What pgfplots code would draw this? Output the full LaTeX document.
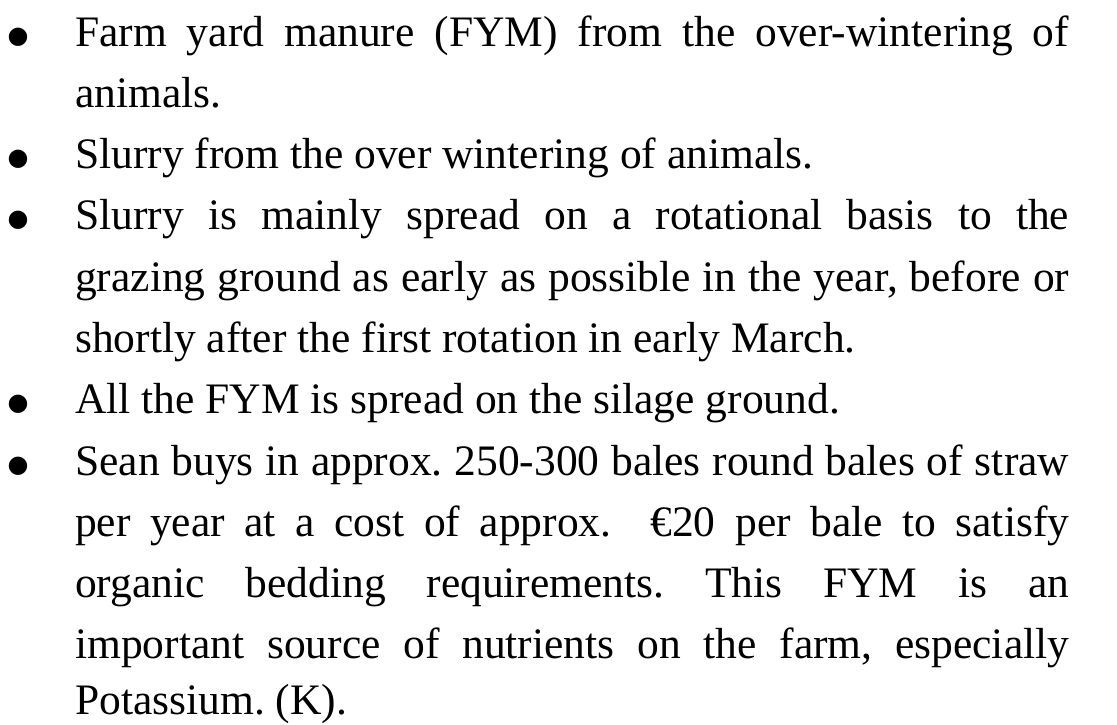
\documentclass[border=0pt]{standalone}
\usepackage{fontspec}
\setmainfont{Liberation Serif}
\newfontfamily\dv{DejaVu Sans}
\usepackage{pgfplots}
\pgfplotsset{compat=1.18}
\newcommand{\J}[1]{\makebox[994pt][s]{#1}}
\newcommand{\B}{{\dv\fontsize{24}{24}\selectfont ●}}
\begin{document}
\frenchspacing
\begin{tikzpicture}
\begin{axis}[
  width=1117pt, height=724pt, scale only axis,
  xmin=0, xmax=1117, ymin=0, ymax=724,
  hide axis, clip=false,
]
\addplot[draw=none, forget plot] coordinates {(0,0) (1117,724)};
\path[use as bounding box] (axis cs:0,0) rectangle (axis cs:1117,724);
\fontsize{43.5}{50}\selectfont
% bullets
\node[anchor=base, inner sep=0pt] at (axis cs:18,680) {\B};
\node[anchor=base, inner sep=0pt] at (axis cs:18,558) {\B};
\node[anchor=base, inner sep=0pt] at (axis cs:18,497) {\B};
\node[anchor=base, inner sep=0pt] at (axis cs:18,313) {\B};
\node[anchor=base, inner sep=0pt] at (axis cs:18,252) {\B};
% lines
\node[anchor=base west, inner sep=0pt] at (axis cs:75,677) {\J{Farm yard manure (FYM) from the over-wintering of}};
\node[anchor=base west, inner sep=0pt] at (axis cs:75,616) {animals.};
\node[anchor=base west, inner sep=0pt] at (axis cs:75,555) {Slurry from the over wintering of animals.};
\node[anchor=base west, inner sep=0pt] at (axis cs:75,494) {\J{Slurry is mainly spread on a rotational basis to the}};
\node[anchor=base west, inner sep=0pt] at (axis cs:75,432) {\J{grazing ground as early as possible in the year, before or}};
\node[anchor=base west, inner sep=0pt] at (axis cs:75,371) {shortly after the first rotation in early March.};
\node[anchor=base west, inner sep=0pt] at (axis cs:75,310) {All the FYM is spread on the silage ground.};
\node[anchor=base west, inner sep=0pt] at (axis cs:75,249) {\J{Sean buys in approx. 250-300 bales round bales of straw}};
\node[anchor=base west, inner sep=0pt] at (axis cs:75,188) {\J{per year at a cost of approx.\ \ €20 per bale to satisfy}};
\node[anchor=base west, inner sep=0pt] at (axis cs:75,127) {\J{organic bedding requirements. This FYM is an}};
\node[anchor=base west, inner sep=0pt] at (axis cs:75,66) {\J{important source of nutrients on the farm, especially}};
\node[anchor=base west, inner sep=0pt] at (axis cs:75,10) {Potassium. (K).};
\end{axis}
\end{tikzpicture}
\end{document}
